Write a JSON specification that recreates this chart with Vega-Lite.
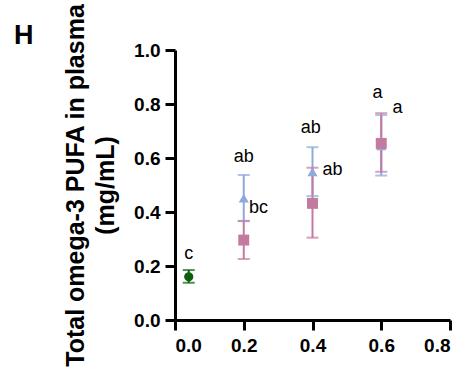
{
  "$schema": "https://vega.github.io/schema/vega-lite/v6.json",
  "width": 275,
  "height": 270,
  "autosize": "none",
  "padding": {"left": 175, "top": 50, "right": 19, "bottom": 57},
  "config": {
    "view": {"stroke": null},
    "font": "Liberation Sans",
    "axis": {
      "domainColor": "black", "domainWidth": 3,
      "tickColor": "black", "tickWidth": 3, "tickSize": 10,
      "labelFont": "Liberation Sans", "labelFontSize": 19, "labelFontWeight": "bold", "labelColor": "black",
      "grid": false,
      "titleFont": "Liberation Sans", "titleFontSize": 25, "titleFontWeight": "bold", "titleColor": "black"
    }
  },
  "title": {"text": "H", "anchor": "start", "frame": "group", "fontSize": 27, "fontWeight": "bold", "font": "Liberation Sans", "color": "black", "baseline": "alphabetic", "offset": 0, "dx": -161, "dy": 68},
  "datasets": {
    "pts": [
      {"series": "Control", "x": 0.04, "mean": 0.160, "lo": 0.138, "hi": 0.185},
      {"series": "Group A", "x": 0.2, "mean": 0.451, "lo": 0.366, "hi": 0.537},
      {"series": "Group A", "x": 0.4, "mean": 0.549, "lo": 0.459, "hi": 0.640},
      {"series": "Group A", "x": 0.6, "mean": 0.645, "lo": 0.535, "hi": 0.759},
      {"series": "Group B", "x": 0.2, "mean": 0.296, "lo": 0.226, "hi": 0.367},
      {"series": "Group B", "x": 0.4, "mean": 0.432, "lo": 0.305, "hi": 0.564},
      {"series": "Group B", "x": 0.6, "mean": 0.654, "lo": 0.549, "hi": 0.766}
    ],
    "labels": [
      {"x": 0.04, "y": 0.225, "label": "c"},
      {"x": 0.2, "y": 0.584, "label": "ab"},
      {"x": 0.243, "y": 0.395, "label": "bc"},
      {"x": 0.395, "y": 0.694, "label": "ab"},
      {"x": 0.458, "y": 0.537, "label": "ab"},
      {"x": 0.589, "y": 0.823, "label": "a"},
      {"x": 0.647, "y": 0.768, "label": "a"}
    ]
  },
  "encoding": {
    "x": {"field": "x", "type": "quantitative",
      "scale": {"domain": [0, 0.8], "nice": false},
      "axis": {"values": [0, 0.2, 0.4, 0.6, 0.8], "format": ".1f", "title": null, "labelPadding": 6}}
  },
  "layer": [
    {
      "data": {"name": "pts"},
      "mark": {"type": "rule", "strokeWidth": 2},
      "encoding": {
        "y": {"field": "lo", "type": "quantitative",
          "scale": {"domain": [0, 1], "nice": false},
          "axis": {"values": [0, 0.2, 0.4, 0.6, 0.8, 1.0], "format": ".1f", "labelPadding": 5,
            "title": ["Total omega-3 PUFA in plasma", "(mg/mL)"],
            "titleAngle": 270, "titleX": -92, "titleY": 135, "titleAlign": "center",
            "titleBaseline": "alphabetic", "titleLineHeight": 30, "titleLimit": 1000}},
        "y2": {"field": "hi"},
        "color": {"field": "series", "type": "nominal",
          "scale": {"domain": ["Control", "Group A", "Group B"], "range": ["#0b5e0b", "#8eaadb", "#c47a9f"]},
          "legend": null}
      }
    },
    {
      "data": {"name": "pts"},
      "mark": {"type": "tick", "orient": "horizontal", "size": 12, "thickness": 2},
      "encoding": {
        "y": {"field": "lo", "type": "quantitative",
          "axis": {"values": [0, 0.2, 0.4, 0.6, 0.8, 1.0], "format": ".1f", "labelPadding": 5,
            "title": ["Total omega-3 PUFA in plasma", "(mg/mL)"],
            "titleAngle": 270, "titleX": -92, "titleY": 135, "titleAlign": "center",
            "titleBaseline": "alphabetic", "titleLineHeight": 30, "titleLimit": 1000}},
        "color": {"field": "series", "type": "nominal", "legend": null}
      }
    },
    {
      "data": {"name": "pts"},
      "mark": {"type": "tick", "orient": "horizontal", "size": 12, "thickness": 2},
      "encoding": {
        "y": {"field": "hi", "type": "quantitative",
          "axis": {"values": [0, 0.2, 0.4, 0.6, 0.8, 1.0], "format": ".1f", "labelPadding": 5,
            "title": ["Total omega-3 PUFA in plasma", "(mg/mL)"],
            "titleAngle": 270, "titleX": -92, "titleY": 135, "titleAlign": "center",
            "titleBaseline": "alphabetic", "titleLineHeight": 30, "titleLimit": 1000}},
        "color": {"field": "series", "type": "nominal", "legend": null}
      }
    },
    {
      "data": {"name": "pts"},
      "mark": {"type": "point", "filled": true, "opacity": 1},
      "encoding": {
        "y": {"field": "mean", "type": "quantitative",
          "axis": {"values": [0, 0.2, 0.4, 0.6, 0.8, 1.0], "format": ".1f", "labelPadding": 5,
            "title": ["Total omega-3 PUFA in plasma", "(mg/mL)"],
            "titleAngle": 270, "titleX": -92, "titleY": 135, "titleAlign": "center",
            "titleBaseline": "alphabetic", "titleLineHeight": 30, "titleLimit": 1000}},
        "color": {"field": "series", "type": "nominal", "legend": null},
        "shape": {"field": "series", "type": "nominal",
          "scale": {"domain": ["Control", "Group A", "Group B"], "range": ["circle", "triangle-up", "square"]},
          "legend": null},
        "size": {"field": "series", "type": "nominal",
          "scale": {"domain": ["Control", "Group A", "Group B"], "range": [85, 120, 144]},
          "legend": null}
      }
    },
    {
      "data": {"name": "labels"},
      "mark": {"type": "text", "fontSize": 18, "font": "Liberation Sans", "color": "black", "align": "center", "baseline": "alphabetic"},
      "encoding": {
        "y": {"field": "y", "type": "quantitative",
          "axis": {"values": [0, 0.2, 0.4, 0.6, 0.8, 1.0], "format": ".1f", "labelPadding": 5,
            "title": ["Total omega-3 PUFA in plasma", "(mg/mL)"],
            "titleAngle": 270, "titleX": -92, "titleY": 135, "titleAlign": "center",
            "titleBaseline": "alphabetic", "titleLineHeight": 30, "titleLimit": 1000}},
        "text": {"field": "label", "type": "nominal"}
      }
    }
  ]
}
